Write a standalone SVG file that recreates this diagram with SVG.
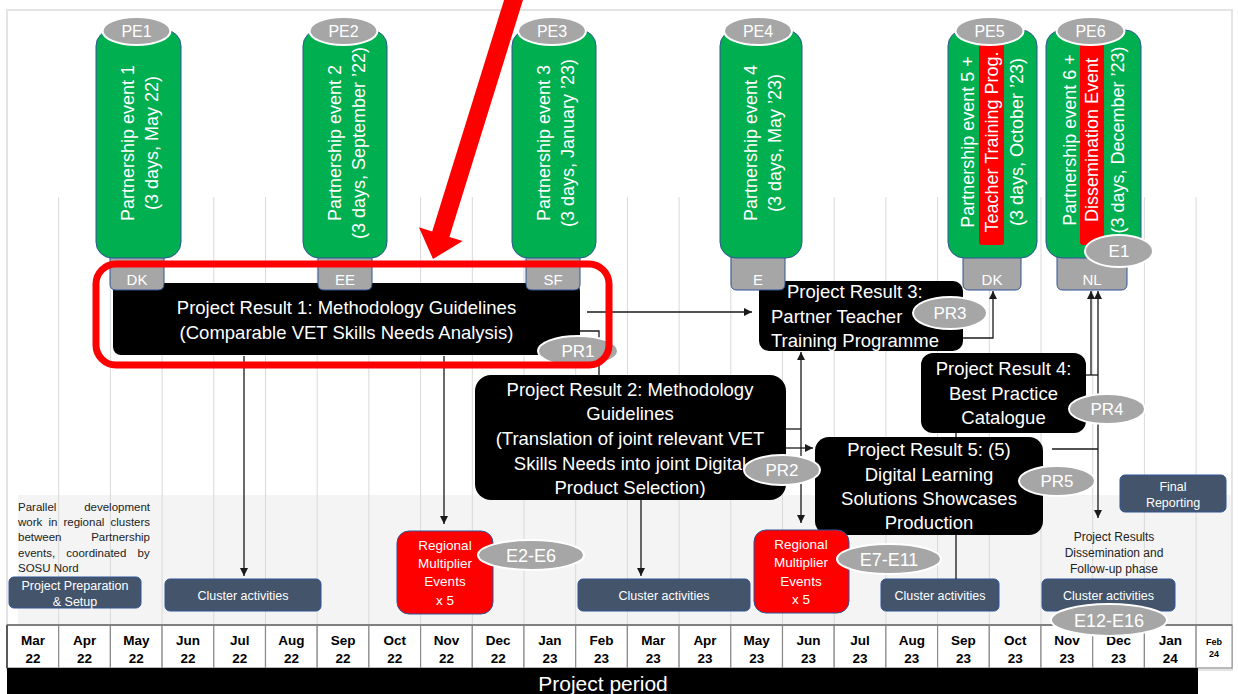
<svg xmlns="http://www.w3.org/2000/svg" width="1238" height="694" viewBox="0 0 1238 694">
  <defs>
    <style>
      text { font-family: "Liberation Sans", Arial, sans-serif; }
      .frame { fill: none; stroke: #e4e4e4; stroke-width: 2; }
      .grid { stroke: #d9d9d9; stroke-width: 1; }
      .pill { fill: #00b050; stroke: #2f5597; stroke-width: 1; }
      .strip { fill: #ff0000; }
      .tab { fill: #a6a6a6; stroke: #2f5597; stroke-width: 1; }
      .oval { fill: #a6a6a6; stroke: #ffffff; stroke-width: 2; }
      .blk { fill: #000000; }
      .slate { fill: #44546a; stroke: #2f5597; stroke-width: 1; }
      .redbox { fill: #ff0000; stroke: #2f5597; stroke-width: 1; }
      .vt { font-size: 18px; fill: #ffffff; text-anchor: middle; }
      .bt { font-size: 18.5px; fill: #ffffff; text-anchor: middle; }
      .btl { font-size: 18.5px; fill: #ffffff; text-anchor: start; }
      .lbl { font-size: 17px; fill: #ffffff; text-anchor: middle; }
      .pe { font-size: 16px; fill: #ffffff; text-anchor: middle; }
      .tb { font-size: 15px; fill: #ffffff; text-anchor: middle; }
      .st { font-size: 12.5px; fill: #ffffff; text-anchor: middle; }
      .rt { font-size: 13.5px; fill: #ffffff; text-anchor: middle; }
      .note { font-size: 11.5px; fill: #222222; }
      .dark { font-size: 12px; fill: #222222; text-anchor: middle; }
      .mon { font-size: 13.5px; font-weight: bold; fill: #000000; text-anchor: middle; }
      .cell { fill: #ffffff; stroke: #8c8c8c; stroke-width: 1.2; }
      .conn { fill: none; stroke: #1a1a1a; stroke-width: 1.3; }
    </style>
    <marker id="arr" markerUnits="userSpaceOnUse" markerWidth="9" markerHeight="8" refX="8" refY="4" orient="auto-start-reverse">
      <path d="M0,0 L8,4 L0,8 z" fill="#1a1a1a"/>
    </marker>
  </defs>

  <!-- canvas, frame, lower band and month gridlines -->
  <rect x="0" y="0" width="1238" height="694" fill="#ffffff"/>
  <rect x="18" y="495" width="1214" height="130" fill="#f4f4f4"/>
  <rect class="frame" x="7" y="10" width="1225" height="660"/>
  <g id="gridlines">
    <line class="grid" x1="58.7" y1="197" x2="58.7" y2="625"/>
    <line class="grid" x1="110.4" y1="197" x2="110.4" y2="625"/>
    <line class="grid" x1="162.1" y1="197" x2="162.1" y2="625"/>
    <line class="grid" x1="213.8" y1="197" x2="213.8" y2="625"/>
    <line class="grid" x1="265.5" y1="197" x2="265.5" y2="625"/>
    <line class="grid" x1="317.2" y1="197" x2="317.2" y2="625"/>
    <line class="grid" x1="368.9" y1="197" x2="368.9" y2="625"/>
    <line class="grid" x1="420.6" y1="197" x2="420.6" y2="625"/>
    <line class="grid" x1="472.3" y1="197" x2="472.3" y2="625"/>
    <line class="grid" x1="524" y1="197" x2="524" y2="625"/>
    <line class="grid" x1="575.7" y1="197" x2="575.7" y2="625"/>
    <line class="grid" x1="627.4" y1="197" x2="627.4" y2="625"/>
    <line class="grid" x1="679.1" y1="197" x2="679.1" y2="625"/>
    <line class="grid" x1="730.8" y1="197" x2="730.8" y2="625"/>
    <line class="grid" x1="782.5" y1="197" x2="782.5" y2="625"/>
    <line class="grid" x1="834.2" y1="197" x2="834.2" y2="625"/>
    <line class="grid" x1="885.9" y1="197" x2="885.9" y2="625"/>
    <line class="grid" x1="937.6" y1="197" x2="937.6" y2="625"/>
    <line class="grid" x1="989.3" y1="197" x2="989.3" y2="625"/>
    <line class="grid" x1="1041" y1="197" x2="1041" y2="625"/>
    <line class="grid" x1="1092.7" y1="197" x2="1092.7" y2="625"/>
    <line class="grid" x1="1144.4" y1="197" x2="1144.4" y2="625"/>
    <line class="grid" x1="1196.1" y1="197" x2="1196.1" y2="625"/>
  </g>

  <!-- month timeline -->
  <g id="timeline">
    <rect class="cell" x="7" y="625" width="51.7" height="43"/>
    <rect class="cell" x="58.7" y="625" width="51.7" height="43"/>
    <rect class="cell" x="110.4" y="625" width="51.7" height="43"/>
    <rect class="cell" x="162.1" y="625" width="51.7" height="43"/>
    <rect class="cell" x="213.8" y="625" width="51.7" height="43"/>
    <rect class="cell" x="265.5" y="625" width="51.7" height="43"/>
    <rect class="cell" x="317.2" y="625" width="51.7" height="43"/>
    <rect class="cell" x="368.9" y="625" width="51.7" height="43"/>
    <rect class="cell" x="420.6" y="625" width="51.7" height="43"/>
    <rect class="cell" x="472.3" y="625" width="51.7" height="43"/>
    <rect class="cell" x="524" y="625" width="51.7" height="43"/>
    <rect class="cell" x="575.7" y="625" width="51.7" height="43"/>
    <rect class="cell" x="627.4" y="625" width="51.7" height="43"/>
    <rect class="cell" x="679.1" y="625" width="51.7" height="43"/>
    <rect class="cell" x="730.8" y="625" width="51.7" height="43"/>
    <rect class="cell" x="782.5" y="625" width="51.7" height="43"/>
    <rect class="cell" x="834.2" y="625" width="51.7" height="43"/>
    <rect class="cell" x="885.9" y="625" width="51.7" height="43"/>
    <rect class="cell" x="937.6" y="625" width="51.7" height="43"/>
    <rect class="cell" x="989.3" y="625" width="51.7" height="43"/>
    <rect class="cell" x="1041" y="625" width="51.7" height="43"/>
    <rect class="cell" x="1092.7" y="625" width="51.7" height="43"/>
    <rect class="cell" x="1144.4" y="625" width="51.7" height="43"/>
    <rect class="cell" x="1196.1" y="625" width="36" height="43"/>
    <line x1="7" y1="625" x2="1232" y2="625" stroke="#7f7f7f" stroke-width="2"/>
    <line x1="7" y1="625" x2="7" y2="668" stroke="#595959" stroke-width="2"/>
    <g class="mon">
      <text x="32.9" y="645">Mar</text><text x="32.9" y="663">22</text>
      <text x="84.6" y="645">Apr</text><text x="84.6" y="663">22</text>
      <text x="136.3" y="645">May</text><text x="136.3" y="663">22</text>
      <text x="188" y="645">Jun</text><text x="188" y="663">22</text>
      <text x="239.7" y="645">Jul</text><text x="239.7" y="663">22</text>
      <text x="291.4" y="645">Aug</text><text x="291.4" y="663">22</text>
      <text x="343.1" y="645">Sep</text><text x="343.1" y="663">22</text>
      <text x="394.8" y="645">Oct</text><text x="394.8" y="663">22</text>
      <text x="446.5" y="645">Nov</text><text x="446.5" y="663">22</text>
      <text x="498.2" y="645">Dec</text><text x="498.2" y="663">22</text>
      <text x="549.9" y="645">Jan</text><text x="549.9" y="663">23</text>
      <text x="601.6" y="645">Feb</text><text x="601.6" y="663">23</text>
      <text x="653.3" y="645">Mar</text><text x="653.3" y="663">23</text>
      <text x="705" y="645">Apr</text><text x="705" y="663">23</text>
      <text x="756.7" y="645">May</text><text x="756.7" y="663">23</text>
      <text x="808.4" y="645">Jun</text><text x="808.4" y="663">23</text>
      <text x="860.1" y="645">Jul</text><text x="860.1" y="663">23</text>
      <text x="911.8" y="645">Aug</text><text x="911.8" y="663">23</text>
      <text x="963.5" y="645">Sep</text><text x="963.5" y="663">23</text>
      <text x="1015.2" y="645">Oct</text><text x="1015.2" y="663">23</text>
      <text x="1066.9" y="645">Nov</text><text x="1066.9" y="663">23</text>
      <text x="1118.6" y="645">Dec</text><text x="1118.6" y="663">23</text>
      <text x="1170.3" y="645">Jan</text><text x="1170.3" y="663">24</text>
      <text x="1214" y="644.5" style="font-size:9px">Feb</text><text x="1214" y="656.5" style="font-size:9px">24</text>
    </g>
    <rect x="7" y="668" width="1191" height="26" fill="#000000"/>
    <text x="603" y="691" style="font-size:21px" fill="#ffffff" text-anchor="middle">Project period</text>
  </g>

  <!-- project result boxes -->
  <g id="pr1">
    <rect class="blk" x="113" y="283" width="467" height="72" rx="8"/>
    <text class="bt" x="346.5" y="313.5">Project Result 1: Methodology Guidelines</text>
    <text class="bt" x="346.5" y="338.5">(Comparable VET Skills Needs Analysis)</text>
  </g>
  <g id="pr2">
    <rect class="blk" x="475" y="375" width="311" height="125" rx="16"/>
    <text class="bt" x="630" y="395.5">Project Result 2: Methodology</text>
    <text class="bt" x="630" y="419.5">Guidelines</text>
    <text class="bt" x="630" y="444.5">(Translation of joint relevant VET</text>
    <text class="bt" x="630" y="469.5">Skills Needs into joint Digital</text>
    <text class="bt" x="630" y="493.5">Product Selection)</text>
  </g>
  <g id="pr3">
    <rect class="blk" x="759" y="281" width="204" height="70" rx="10"/>
    <text class="btl" x="787" y="298">Project Result 3:</text>
    <text class="btl" x="771" y="323">Partner Teacher</text>
    <text class="btl" x="771" y="347">Training Programme</text>
  </g>
  <g id="pr4">
    <rect class="blk" x="921" y="353" width="165" height="80" rx="12"/>
    <text class="bt" x="1003.5" y="375">Project Result 4:</text>
    <text class="bt" x="1003.5" y="400">Best Practice</text>
    <text class="bt" x="1003.5" y="424">Catalogue</text>
  </g>
  <g id="pr5">
    <rect class="blk" x="815" y="437" width="228" height="98" rx="14"/>
    <text class="bt" x="929" y="456">Project Result 5: (5)</text>
    <text class="bt" x="929" y="481">Digital Learning</text>
    <text class="bt" x="929" y="505">Solutions Showcases</text>
    <text class="bt" x="929" y="529">Production</text>
  </g>

  <!-- host country tabs under the partnership events -->
  <g id="tab-dk1">
    <path class="tab" d="M110,250 V284 Q110,290 116,290 H158 Q164,290 164,284 V250 Z"/>
    <text class="tb" x="137" y="285">DK</text>
  </g>
  <g id="tab-ee">
    <path class="tab" d="M318,250 V284 Q318,290 324,290 H366 Q372,290 372,284 V250 Z"/>
    <text class="tb" x="345" y="285">EE</text>
  </g>
  <g id="tab-sf">
    <path class="tab" d="M526,250 V284 Q526,290 532,290 H574 Q580,290 580,284 V250 Z"/>
    <text class="tb" x="553" y="285">SF</text>
  </g>
  <g id="tab-e">
    <path class="tab" d="M731,250 V284 Q731,290 737,290 H779 Q785,290 785,284 V250 Z"/>
    <text class="tb" x="758" y="285">E</text>
  </g>
  <g id="tab-dk2">
    <path class="tab" d="M963,250 V284 Q963,290 969,290 H1015 Q1021,290 1021,284 V250 Z"/>
    <text class="tb" x="992" y="285">DK</text>
  </g>
  <g id="tab-nl">
    <path class="tab" d="M1057,250 V284 Q1057,290 1063,290 H1121 Q1127,290 1127,284 V250 Z"/>
    <text class="tb" x="1092" y="285">NL</text>
  </g>

  <!-- partnership event pillars -->
  <g id="pe1">
    <rect class="pill" x="96" y="30" width="85" height="228" rx="16"/>
    <g transform="translate(138.5,143) rotate(-90)">
      <text class="vt" y="-5">Partnership event 1</text>
      <text class="vt" y="19">(3 days, May 22)</text>
    </g>
    <ellipse class="oval" cx="136.5" cy="31" rx="34" ry="14"/>
    <text class="pe" x="136.5" y="37">PE1</text>
  </g>
  <g id="pe2">
    <rect class="pill" x="303" y="30" width="84" height="228" rx="16"/>
    <g transform="translate(345,143) rotate(-90)">
      <text class="vt" y="-4">Partnership event 2</text>
      <text class="vt" y="20">(3 days, September ’22)</text>
    </g>
    <ellipse class="oval" cx="343.5" cy="31" rx="34" ry="14"/>
    <text class="pe" x="343.5" y="37">PE2</text>
  </g>
  <g id="pe3">
    <rect class="pill" x="512" y="30" width="84" height="228" rx="16"/>
    <g transform="translate(554,143) rotate(-90)">
      <text class="vt" y="-4">Partnership event 3</text>
      <text class="vt" y="20">(3 days, January ’23)</text>
    </g>
    <ellipse class="oval" cx="552" cy="31" rx="34" ry="14"/>
    <text class="pe" x="552" y="37">PE3</text>
  </g>
  <g id="pe4">
    <rect class="pill" x="720" y="30" width="82" height="228" rx="16"/>
    <g transform="translate(761,143) rotate(-90)">
      <text class="vt" y="-4">Partnership event 4</text>
      <text class="vt" y="20">(3 days, May ’23)</text>
    </g>
    <ellipse class="oval" cx="758" cy="31" rx="34" ry="14"/>
    <text class="pe" x="758" y="37">PE4</text>
  </g>
  <g id="pe5">
    <rect class="pill" x="948" y="30" width="89" height="228" rx="16"/>
    <rect class="strip" x="979" y="43" width="25" height="202" rx="3"/>
    <g transform="translate(992.5,142) rotate(-90)">
      <text class="vt" y="-18.5">Partnership event 5 +</text>
      <text class="vt" y="5.5">Teacher Training Prog.</text>
      <text class="vt" y="30.5">(3 days, October ’23)</text>
    </g>
    <ellipse class="oval" cx="989.5" cy="31" rx="34" ry="14"/>
    <text class="pe" x="989.5" y="37">PE5</text>
  </g>
  <g id="pe6">
    <rect class="pill" x="1046" y="30" width="95" height="228" rx="16"/>
    <rect class="strip" x="1080" y="43" width="24" height="202" rx="3"/>
    <g transform="translate(1093.5,140) rotate(-90)">
      <text class="vt" y="-17.5">Partnership event 6 +</text>
      <text class="vt" y="4.5">Dissemination Event</text>
      <text class="vt" y="30.5">(3 days, December ’23)</text>
    </g>
    <ellipse class="oval" cx="1090.5" cy="31" rx="34" ry="14"/>
    <text class="pe" x="1090.5" y="37">PE6</text>
  </g>

  <!-- cluster work, reporting and multiplier boxes -->
  <g id="note">
    <text class="note" x="18" y="511">Parallel</text>
    <text class="note" x="150" y="511" text-anchor="end">development</text>
    <text class="note" x="18" y="526" style="word-spacing:2.9px">work in regional clusters</text>
    <text class="note" x="18" y="541">between</text>
    <text class="note" x="150" y="541" text-anchor="end">Partnership</text>
    <text class="note" x="18" y="557" style="word-spacing:8px">events, coordinated by</text>
    <text class="note" x="18" y="572">SOSU Nord</text>
  </g>
  <g id="prep">
    <rect class="slate" x="9" y="577" width="132" height="31" rx="5"/>
    <text class="st" x="75" y="589.5">Project Preparation</text>
    <text class="st" x="75" y="605.5">&amp; Setup</text>
  </g>
  <g id="cluster1">
    <rect class="slate" x="165" y="579" width="156" height="32" rx="5"/>
    <text class="st" x="243" y="599.5">Cluster activities</text>
  </g>
  <g id="cluster2">
    <rect class="slate" x="578" y="579" width="172" height="32" rx="5"/>
    <text class="st" x="664" y="599.5">Cluster activities</text>
  </g>
  <g id="cluster3">
    <rect class="slate" x="881" y="579" width="118" height="32" rx="5"/>
    <text class="st" x="940" y="599.5">Cluster activities</text>
  </g>
  <g id="cluster4">
    <rect class="slate" x="1042" y="579" width="133" height="32" rx="5"/>
    <text class="st" x="1108.5" y="599.5">Cluster activities</text>
  </g>
  <g id="final">
    <rect class="slate" x="1120" y="475" width="106" height="37" rx="5"/>
    <text class="st" x="1173" y="490.5">Final</text>
    <text class="st" x="1173" y="506.5">Reporting</text>
  </g>
  <g id="dissemination">
    <text class="dark" x="1114" y="541">Project Results</text>
    <text class="dark" x="1114" y="557">Dissemination and</text>
    <text class="dark" x="1114" y="573">Follow-up phase</text>
  </g>
  <g id="multiplier1">
    <rect class="redbox" x="397" y="531" width="96" height="83" rx="12"/>
    <text class="rt" x="445" y="549.5">Regional</text>
    <text class="rt" x="445" y="567.5">Multiplier</text>
    <text class="rt" x="445" y="585.5">Events</text>
    <text class="rt" x="445" y="604.5">x 5</text>
  </g>
  <g id="multiplier2">
    <rect class="redbox" x="754" y="530" width="95" height="83" rx="12"/>
    <text class="rt" x="801" y="548.5">Regional</text>
    <text class="rt" x="801" y="566.5">Multiplier</text>
    <text class="rt" x="801" y="585.5">Events</text>
    <text class="rt" x="801" y="603.5">x 5</text>
  </g>

  <!-- connectors -->
  <g id="connectors">
    <path class="conn" d="M244,356 V576" marker-end="url(#arr)"/>
    <path class="conn" d="M444,356 V524" marker-end="url(#arr)"/>
    <path class="conn" d="M587,312 H752" marker-end="url(#arr)"/>
    <path class="conn" d="M580,331 H599 V376"/>
    <path class="conn" d="M963,338 H993 V291" marker-end="url(#arr)"/>
    <path class="conn" d="M785,429 H801"/>
    <path class="conn" d="M801,352 V523" marker-start="url(#arr)" marker-end="url(#arr)"/>
    <path class="conn" d="M785,448 H813" marker-end="url(#arr)"/>
    <path class="conn" d="M641,500 V576" marker-end="url(#arr)"/>
    <path class="conn" d="M956,433 V437"/>
    <path class="conn" d="M956,535 V579"/>
    <path class="conn" d="M1086,375 H1098"/>
    <path class="conn" d="M1091,375 V291" marker-end="url(#arr)"/>
    <path class="conn" d="M1052,449 H1098"/>
    <path class="conn" d="M1098,291 V518" marker-start="url(#arr)" marker-end="url(#arr)"/>
  </g>

  <!-- result and event ovals -->
  <g id="oval-pr1"><ellipse class="oval" cx="578" cy="351" rx="40" ry="15"/><text class="lbl" x="578" y="357">PR1</text></g>
  <g id="oval-pr2"><ellipse class="oval" cx="782" cy="470" rx="38" ry="15"/><text class="lbl" x="782" y="476">PR2</text></g>
  <g id="oval-pr3"><ellipse class="oval" cx="950" cy="313" rx="37" ry="16"/><text class="lbl" x="950" y="319">PR3</text></g>
  <g id="oval-pr4"><ellipse class="oval" cx="1107" cy="409" rx="38" ry="15"/><text class="lbl" x="1107" y="415">PR4</text></g>
  <g id="oval-pr5"><ellipse class="oval" cx="1057" cy="481" rx="38" ry="15"/><text class="lbl" x="1057" y="487">PR5</text></g>
  <g id="oval-e1"><ellipse class="oval" cx="1119" cy="251" rx="34" ry="16"/><text class="lbl" x="1119" y="257">E1</text></g>
  <g id="oval-e2"><ellipse class="oval" cx="531" cy="555" rx="53" ry="15"/><text class="lbl" x="531" y="561.5" style="font-size:18px">E2-E6</text></g>
  <g id="oval-e7"><ellipse class="oval" cx="889" cy="559" rx="52" ry="15"/><text class="lbl" x="889" y="565.5" style="font-size:18px">E7-E11</text></g>
  <g id="oval-e12"><ellipse class="oval" cx="1109" cy="620" rx="58" ry="16"/><text class="lbl" x="1109" y="626.5" style="font-size:18px">E12-E16</text></g>

  <!-- red emphasis frame and pointer -->
  <g id="highlight">
    <rect x="96" y="264" width="513" height="101" rx="20" fill="none" stroke="#ff0000" stroke-width="7"/>
    <polygon points="524.6,-5.3 449.4,236.9 462.7,241.1 433,259 418.9,227.3 432.2,231.5 507.4,-10.7" fill="#ff0000"/>
  </g>
</svg>
